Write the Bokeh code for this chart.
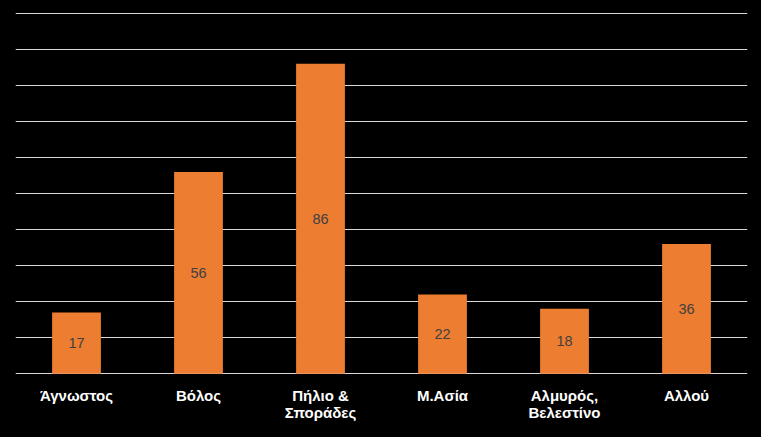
from bokeh.plotting import figure
from bokeh.models import ColumnDataSource, FixedTicker, Range1d
from bokeh.embed import file_html
from bokeh.resources import INLINE
from bokeh.core.properties import value

categories = ["Άγνωστος", "Βόλος", "Πήλιο &\nΣποράδες", "Μ.Ασία", "Αλμυρός,\nΒελεστίνο", "Αλλού"]
counts = [17, 56, 86, 22, 18, 36]
label_text = [str(c) for c in counts]
mid = [c / 2 for c in counts]
grid_values = list(range(0, 101, 10))

src = ColumnDataSource(dict(cat=categories, val=counts, mid=mid, txt=label_text))

p = figure(x_range=categories, y_range=Range1d(-0.5, 100.5), width=761, height=437,
           output_backend="svg", toolbar_location=None,
           background_fill_color="black", border_fill_color="black",
           min_border_left=15, min_border_right=14, min_border_top=11, min_border_bottom=62)
p.outline_line_color = None

p.vbar(x="cat", top="val", width=0.4, source=src, color="#ED7D31", line_color=None)
p.text(x="cat", y="mid", text="txt", source=src, text_align="center", text_baseline="middle",
       text_color="#404040", text_font_size="14.5px", text_font=value("Liberation Sans"))

p.yaxis.visible = False
p.ygrid.ticker = FixedTicker(ticks=grid_values)
p.ygrid.grid_line_color = "#d9d9d9"
p.ygrid.grid_line_width = 1
p.xgrid.grid_line_color = None

xa = p.xaxis[0]
xa.axis_line_color = None
xa.major_tick_line_color = None
xa.minor_tick_line_color = None
xa.major_label_text_color = "white"
xa.major_label_text_font = "Liberation Sans"
xa.major_label_text_font_style = "bold"
xa.major_label_text_font_size = "15px"
xa.major_label_standoff = 5
xa.major_label_text_line_height = 1.0

html = file_html(p, INLINE)
html = html.replace("</head>", "<style>html,body{background:black;margin:0;padding:0;}</style></head>", 1)
open("out.html", "w").write(html)
